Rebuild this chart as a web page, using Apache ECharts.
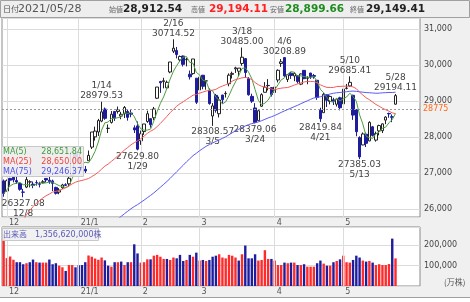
<!DOCTYPE html>
<html>
<head>
<meta charset="utf-8">
<script src="https://cdn.jsdelivr.net/npm/echarts@6/dist/echarts.min.js"></script>
<style>
html,body{margin:0;padding:0;background:#fff;}
#c{width:470px;height:302px;}
</style>
</head>
<body>
<div id="c"></div>
<script>
// Nikkei 225 daily candles, 2020/11/30 - 2021/05/28
const dates = [
'2020/11/30',
'2020/12/01','2020/12/02','2020/12/03','2020/12/04','2020/12/07','2020/12/08','2020/12/09','2020/12/10','2020/12/11',
'2020/12/14','2020/12/15','2020/12/16','2020/12/17','2020/12/18','2020/12/21','2020/12/22','2020/12/23','2020/12/24','2020/12/25',
'2020/12/28','2020/12/29','2020/12/30',
'2021/01/04','2021/01/05','2021/01/06','2021/01/07','2021/01/08','2021/01/12','2021/01/13','2021/01/14','2021/01/15',
'2021/01/18','2021/01/19','2021/01/20','2021/01/21','2021/01/22','2021/01/25','2021/01/26','2021/01/27','2021/01/28','2021/01/29',
'2021/02/01','2021/02/02','2021/02/03','2021/02/04','2021/02/05','2021/02/08','2021/02/09','2021/02/10','2021/02/12',
'2021/02/15','2021/02/16','2021/02/17','2021/02/18','2021/02/19','2021/02/22','2021/02/24','2021/02/25','2021/02/26',
'2021/03/01','2021/03/02','2021/03/03','2021/03/04','2021/03/05','2021/03/08','2021/03/09','2021/03/10','2021/03/11','2021/03/12',
'2021/03/15','2021/03/16','2021/03/17','2021/03/18','2021/03/19','2021/03/22','2021/03/23','2021/03/24','2021/03/25','2021/03/26',
'2021/03/29','2021/03/30','2021/03/31',
'2021/04/01','2021/04/02','2021/04/05','2021/04/06','2021/04/07','2021/04/08','2021/04/09','2021/04/12','2021/04/13','2021/04/14',
'2021/04/15','2021/04/16','2021/04/19','2021/04/20','2021/04/21','2021/04/22','2021/04/23','2021/04/26','2021/04/27','2021/04/28',
'2021/04/30',
'2021/05/06','2021/05/07','2021/05/10','2021/05/11','2021/05/12','2021/05/13','2021/05/14','2021/05/17','2021/05/18','2021/05/19',
'2021/05/20','2021/05/21','2021/05/24','2021/05/25','2021/05/26','2021/05/27','2021/05/28'
];

const opens = [
26780,
26500,26850,26880,26790,26710,26470,26610,26750,26690,
26734,26700,26730,26850,26800,26780,26600,26470,26590,26675,
26699,26936,27560,
27575.57,27151.38,27102.85,27340.46,27720.14,28004.37,28140.10,28442.73,28777.47,
28238.68,28405.18,28710.04,28710.26,28580.39,28649.27,28710.17,28666.43,28255.02,28308.21,
27892.96,28151.28,28431.65,28510.29,28535.82,29077.33,29540.07,29538.88,29365.12,
29806.30,30382.57,30403.44,30142.21,30250.58,30146.49,29743.73,29761.83,29633.72,
29307.04,29715.84,29555.93,29297.62,28583.26,29156.86,28646.28,29164.84,29203.14,29481.40,
29740.46,29893.56,29827.56,30043.01,30178.24,29621.88,29129.11,28807.44,28454.52,28855.02,
29241.98,29426.86,29372.60,
29235.38,29583.98,30041.27,30205.35,29598.91,29774.06,29694.68,29702.87,29468.52,29851.17,
29631.81,29777.33,29707.69,29575.71,28744.25,28675.49,29174.07,28988.50,29033.95,28910.63,
29089.27,
28920.67,29351.10,29418.64,29158.18,28756.30,27985.63,27779.49,28079.35,27891.55,28282.17,
27914.61,28168.84,28176.09,28470.32,28654.64,28564.59,28912.54
];

const highs = [
26820,
26820,26865,26890,26895,26726,26560,26894,26800,26762,
26800,26756,26803,26860,26905,26817,26620,26580,26700,26716,
26908,27602,27572,
27602.11,27279.78,27196.40,27624.73,28139.03,28287.37,28503.43,28979.53,28820.50,
28349.97,28720.99,28711.56,28846.15,28698.42,28860.08,28760.51,28753.08,28324.25,28432.02,
28180.03,28362.17,28731.73,28510.29,28836.58,29388.50,29559.21,29646.14,29568.11,
30084.15,30714.52,30500.95,30263.05,30261.82,30200.93,29846.95,30168.27,29633.72,
29679.43,29724.74,29559.39,29349.03,28942.17,29197.68,29120.08,29175.27,29270.40,29768.06,
29815.66,29951.85,29917.87,30485.00,30194.71,29668.39,29202.59,28941.25,28749.72,29215.28,
29525.31,29608.29,29374.90,
29454.75,29878.94,30167.06,30208.89,29742.08,29807.64,29806.52,29714.75,29766.41,29861.05,
29687.62,29780.00,29750.94,29575.71,28812.64,29225.63,29174.60,29152.00,29090.98,29053.97,
29118.94,
29331.37,29473.52,29685.41,29175.25,28775.70,28020.49,28126.17,28122.34,28436.40,28306.62,
28149.57,28341.46,28379.73,28576.08,28676.17,28626.29,29194.11
];

const lows = [
26341,
26490,26650,26740,26700,26508,26327.08,26581,26600,26578,
26650,26600,26710,26740,26700,26500,26400,26410,26560,26638,
26640,26900,27338,
27042.32,27073.46,27002.18,27340.46,27667.25,27899.45,28030.55,28412.17,28477.03,
28111.54,28373.50,28446.58,28651.14,28494.75,28526.38,28455.00,28548.34,28111.38,27629.80,
27781.56,28059.87,28394.12,28258.87,28468.05,29056.60,29226.64,29352.32,29358.60,
29771.22,30331.70,30184.19,30082.25,29958.12,29962.84,29597.05,29730.05,28917.40,
29227.17,29325.73,29315.50,28896.38,28308.57,28676.50,28544.39,28922.28,29097.24,29408.14,
29624.17,29780.09,29686.20,29981.05,29644.24,29147.84,28946.30,28379.06,28454.52,28838.39,
29241.98,29293.31,29123.31,
29153.75,29514.56,29947.83,29672.45,29527.37,29613.97,29551.58,29487.28,29440.54,29607.60,
29465.53,29611.30,29618.97,29032.76,28419.84,28675.49,28833.41,28907.43,28889.22,28845.94,
28741.37,
28913.77,29322.02,29392.81,28475.92,28020.39,27385.03,27772.23,27721.59,27884.23,28013.86,
27871.50,28046.62,28110.85,28357.47,28534.73,28412.21,28899.66
];

const closes = [
26433.62,
26787.54,26800.98,26809.37,26751.24,26547.44,26467.08,26817.94,26756.24,26652.52,
26732.44,26687.84,26757.40,26806.67,26763.39,26714.42,26436.39,26524.79,26668.35,26656.61,
26854.03,27568.15,27444.17,
27258.38,27158.63,27055.94,27490.13,28139.03,28164.34,28456.59,28698.26,28519.18,
28242.21,28633.46,28523.26,28756.86,28631.45,28822.29,28546.18,28635.21,28197.42,27663.39,
28091.05,28362.17,28646.50,28341.95,28779.19,29388.50,29505.93,29562.93,29520.07,
30084.15,30467.75,30292.19,30236.09,30017.92,30156.03,29671.70,30168.27,28966.01,
29663.50,29408.17,29559.10,28930.11,28864.32,28743.25,29027.94,29036.56,29211.64,29717.83,
29766.97,29921.09,29914.33,30216.75,29792.05,29174.15,28995.92,28405.52,28729.88,29176.70,
29384.52,29432.70,29178.80,
29388.87,29854.00,30089.25,29696.63,29730.79,29708.98,29768.06,29538.73,29751.61,29620.99,
29642.69,29683.37,29685.37,29100.38,28508.55,29188.17,29020.63,29126.23,28991.89,29053.97,
28812.63,
29331.37,29357.82,29518.34,28608.59,28147.51,27448.01,28084.47,27824.83,28406.84,28044.45,
28098.25,28317.83,28364.61,28553.98,28642.19,28549.01,29149.41
];

// moving averages of the close
const ma5 = [
26416,26540,26641,26695,26717,26739,26675,26678,26668,26648,
26685,26729,26717,26727,26749,26746,26695,26649,26621,26600,
26628,26854,27038,27156,27257,27297,27281,27420,27602,27861,
28190,28395,28416,28510,28523,28535,28557,28673,28656,28678,
28566,28373,28226,28190,28192,28221,28444,28704,28933,29116,
29351,29612,29828,29985,30120,30220,30234,30075,30050,29796,
29725,29576,29553,29305,29285,29101,29025,28920,28977,29148,
29352,29531,29706,29907,29922,29804,29619,29317,29020,28897,
28939,29026,29181,29313,29448,29589,29642,29752,29816,29799,
29689,29700,29678,29665,29648,29677,29546,29324,29233,29101,
28989,28967,29076,29001,29063,29110,29215,29126,28993,28616,
28361,28023,27982,27962,28092,28138,28246,28276,28395,28486,
28651.84
];

const ma25 = [
24901,25032,25164,25297,25431,25559,25699,25840,25962,26064,
26160,26234,26308,26367,26416,26470,26491,26511,26549,26590,
26643,26699,26745,26774,26794,26819,26847,26901,26955,27023,
27109,27191,27248,27323,27398,27479,27557,27639,27709,27784,
27843,27892,27955,28023,28102,28162,28210,28288,28378,28474,
28573,28676,28770,28855,28926,28979,29044,29101,29163,29180,
29217,29248,29277,29293,29302,29324,29378,29416,29450,29493,
29550,29596,29617,29645,29654,29640,29597,29514,29452,29409,
29384,29355,29336,29304,29340,29357,29368,29375,29406,29443,
29474,29503,29527,29544,29543,29539,29507,29450,29409,29378,
29376,29376,29402,29405,29412,29411,29414,29391,29342,29245,
29165,29090,29037,28971,28904,28855,28800,28757,28717,28671,
28650.00
];

const ma75 = [
null,null,null,null,null,null,null,null,null,null,
null,null,null,null,null,null,null,null,null,null,
null,null,null,null,null,null,null,null,null,null,
null,null,null,null,25648,25722,25797,25870,25938,26008,
26068,26122,26183,26246,26313,26378,26449,26525,26605,26684,
26764,26852,26945,27036,27126,27216,27311,27396,27483,27547,
27619,27680,27742,27789,27834,27879,27920,27961,28007,28062,
28118,28168,28216,28265,28307,28344,28373,28395,28420,28453,
28491,28530,28562,28597,28639,28684,28724,28764,28803,28843,
28880,28925,28966,29006,29046,29084,29104,29118,29144,29169,
29196,29216,29229,29237,29249,29258,29271,29276,29269,29255,
29246,29235,29230,29223,29216,29218,29227,29233,29237,29236,
29246.37
];

// daily volume, 万株
const volumes = [
238000,137000,145000,129000,117000,117000,107000,112000,117000,130000,
117000,115000,115000,115000,130000,107000,112000,100000,92000,74000,
103000,103000,92000,102000,103000,117000,150000,144000,135000,129000,
140000,126000,100000,95000,117000,117000,120000,103000,117000,117000,
205000,160000,115000,117000,131000,131000,149000,153000,144000,133000,
133000,128000,140000,136000,153000,123000,128000,153000,144000,164000,
125000,128000,123000,128000,144000,149000,156000,140000,136000,153000,
149000,140000,125000,156000,199000,136000,136000,156000,125000,128000,
176000,133000,133000,125000,103000,103000,115000,112000,115000,115000,
103000,103000,107000,95000,95000,95000,112000,125000,110000,100000,
100000,117000,123000,131000,149000,117000,115000,128000,149000,140000,
125000,120000,123000,115000,103000,107000,103000,103000,108000,233000,
135662
];

// month ticks on the date axis
const tickDates = ['2020/12/01','2021/01/04','2021/02/01','2021/03/01','2021/04/01','2021/05/06'];
const tickLabels = ['12','21/1','2','3','4','5'];

// annotated swing highs / lows
const highMarkDates = ['2021/01/14','2021/02/16','2021/03/18','2021/04/06','2021/05/10','2021/05/28'];
const lowMarkDates = ['2020/12/08','2021/01/29','2021/03/05','2021/03/24','2021/04/21','2021/05/13'];

// reference price line
const basePrice = 28775;

const FONT = '"DejaVu Sans", "Noto Sans CJK JP", sans-serif';
const JP = '"Noto Sans CJK JP", "DejaVu Sans", sans-serif';
const UP = '#ff2a2a', DOWN = '#1d1d9e';

function fmt2(v) {
  return v.toLocaleString('en-US', {minimumFractionDigits: 2, maximumFractionDigits: 2});
}
function md(d) {
  const p = d.split('/');
  return (+p[1]) + '/' + (+p[2]);
}

// a few empty slots to the right of the last session
const cats = dates.slice();
for (let k = 1; k <= 7; k++) cats.push('pad' + k);

const candles = dates.map((d, i) => [opens[i], closes[i], lows[i], highs[i]]);
const volData = volumes.map((v, i) => ({
  value: v,
  itemStyle: {color: (i === 0 || closes[i] >= closes[i - 1]) ? UP : DOWN}
}));

const tickIdx = tickDates.map(d => dates.indexOf(d));

const markLabel = {color: '#444', fontSize: 9, fontFamily: FONT, lineHeight: 10};
const markPoints = []
  .concat(highMarkDates.map(d => {
    const i = dates.indexOf(d);
    return {coord: [d, highs[i]], label: Object.assign({position: 'top', distance: 1,
      formatter: md(d) + '\n' + highs[i].toFixed(2)}, markLabel)};
  }))
  .concat(lowMarkDates.map(d => {
    const i = dates.indexOf(d);
    return {coord: [d, lows[i]], label: Object.assign({position: 'bottom', distance: 1,
      formatter: lows[i].toFixed(2) + '\n' + md(d)}, markLabel)};
  }));

const monthLines = tickDates.map(d => ({xAxis: d}));

const last = dates.length - 1;

const xAxisCommon = {
  type: 'category',
  data: cats,
  boundaryGap: true,
  axisLine: {show: false},
  axisTick: {show: false},
  splitLine: {show: false},
  axisLabel: {
    interval: (idx) => tickIdx.indexOf(idx) >= 0,
    formatter: (v, idx) => { const k = tickIdx.indexOf(idx); return k >= 0 ? tickLabels[k] : ''; },
    align: 'left', padding: [0, 0, 0, 2], margin: 2,
    fontSize: 8, color: '#555', fontFamily: FONT
  }
};

const option = {
  animation: false,
  backgroundColor: '#ffffff',
  grid: [
    {left: 2, top: 18, width: 418, height: 199, show: true, backgroundColor: '#fff', borderColor: '#8a8a8a', borderWidth: 1},
    {left: 2, top: 227, width: 418, height: 59, show: true, backgroundColor: '#fff', borderColor: '#8a8a8a', borderWidth: 1}
  ],
  xAxis: [
    Object.assign({gridIndex: 0}, xAxisCommon),
    Object.assign({gridIndex: 1}, xAxisCommon)
  ],
  yAxis: [
    {
      gridIndex: 0, type: 'value', position: 'right', scale: true,
      min: 25778, max: 31306, splitNumber: 5,
      axisLine: {show: false}, axisTick: {show: false},
      splitLine: {lineStyle: {color: '#dcdcdc', width: 1}},
      axisLabel: {showMinLabel: false, showMaxLabel: false, margin: 4, fontSize: 8, color: '#444', fontFamily: FONT}
    },
    {
      gridIndex: 1, type: 'value', position: 'right',
      min: 0, max: 290000, splitNumber: 3,
      axisLine: {show: false}, axisTick: {show: false},
      splitLine: {lineStyle: {color: '#dcdcdc', width: 1}},
      axisLabel: {showMinLabel: false, showMaxLabel: false, margin: 4, fontSize: 8, color: '#444', fontFamily: FONT}
    }
  ],
  series: [
    {
      name: 'price', type: 'candlestick', xAxisIndex: 0, yAxisIndex: 0,
      data: candles, barWidth: 3, z: 4,
      itemStyle: {color: '#ffffff', color0: DOWN, borderColor: '#222', borderColor0: DOWN, borderWidth: 1},
      markPoint: {symbol: 'circle', symbolSize: 0, silent: true, data: markPoints},
      markLine: {
        silent: true, symbol: 'none',
        data: monthLines.map(m => Object.assign({lineStyle: {color: '#dcdcdc', type: 'solid', width: 1}, label: {show: false}}, m))
          .concat([{yAxis: basePrice, lineStyle: {color: '#9a9a9a', type: [2, 2], width: 1},
            label: {show: true, position: 'end', distance: 3, formatter: String(basePrice), color: '#ff6a1a', fontSize: 8, fontFamily: FONT}}])
      }
    },
    {name: 'MA(5)', type: 'line', xAxisIndex: 0, yAxisIndex: 0, data: ma5, showSymbol: false, z: 5,
      lineStyle: {color: '#4f9d3f', width: 1}},
    {name: 'MA(25)', type: 'line', xAxisIndex: 0, yAxisIndex: 0, data: ma25, showSymbol: false, z: 5,
      lineStyle: {color: '#f45a5a', width: 1}},
    {name: 'MA(75)', type: 'line', xAxisIndex: 0, yAxisIndex: 0, data: ma75, showSymbol: false, z: 5, connectNulls: false,
      lineStyle: {color: '#5a5af2', width: 1}},
    {
      name: 'volume', type: 'bar', xAxisIndex: 1, yAxisIndex: 1, data: volData, barWidth: 2.4, z: 4,
      markLine: {silent: true, symbol: 'none', label: {show: false},
        lineStyle: {color: '#dcdcdc', type: 'solid', width: 1}, data: monthLines}
    }
  ],
  graphic: [
    // header bar
    {type: 'rect', left: 0, top: 0, z: 0, shape: {width: 469, height: 17}, style: {fill: '#eeeeee', stroke: '#a0a0a0', lineWidth: 1}},
    {type: 'text', x: 3, y: 9, z: 1, style: {text: '日付', font: '8px ' + JP, fill: '#555', verticalAlign: 'middle'}},
    {type: 'text', x: 18, y: 9, z: 1, style: {text: dates[last], font: '11px ' + FONT, fill: '#555', verticalAlign: 'middle'}},
    {type: 'text', x: 109, y: 9.5, z: 1, style: {text: '始値', font: '7px ' + JP, fill: '#666', verticalAlign: 'middle'}},
    {type: 'text', x: 123, y: 9, z: 1, style: {text: fmt2(opens[last]), font: 'bold 10.5px ' + FONT, fill: '#222', verticalAlign: 'middle'}},
    {type: 'text', x: 191, y: 9.5, z: 1, style: {text: '高値', font: '7px ' + JP, fill: '#666', verticalAlign: 'middle'}},
    {type: 'text', x: 209, y: 9, z: 1, style: {text: fmt2(highs[last]), font: 'bold 10.5px ' + FONT, fill: '#ff2020', verticalAlign: 'middle'}},
    {type: 'text', x: 270, y: 9.5, z: 1, style: {text: '安値', font: '7px ' + JP, fill: '#666', verticalAlign: 'middle'}},
    {type: 'text', x: 285, y: 9, z: 1, style: {text: fmt2(lows[last]), font: 'bold 10.5px ' + FONT, fill: '#1e8c1e', verticalAlign: 'middle'}},
    {type: 'text', x: 350, y: 9.5, z: 1, style: {text: '終値', font: '7px ' + JP, fill: '#666', verticalAlign: 'middle'}},
    {type: 'text', x: 366, y: 9, z: 1, style: {text: fmt2(closes[last]), font: 'bold 10.5px ' + FONT, fill: '#222', verticalAlign: 'middle'}},
    // right-hand scale panel and date bands
    {type: 'rect', left: 420, top: 17, z: -5, shape: {width: 50, height: 280}, style: {fill: '#f0f0f0'}},
    {type: 'rect', left: 0, top: 217, z: -5, shape: {width: 420, height: 10}, style: {fill: '#f0f0f0'}},
    {type: 'rect', left: 0, top: 286, z: -5, shape: {width: 470, height: 11}, style: {fill: '#f0f0f0'}},
    {type: 'line', z: 1, shape: {x1: 0, y1: 297.5, x2: 470, y2: 297.5}, style: {stroke: '#a0a0a0', lineWidth: 1}},
    {type: 'text', x: 444, y: 282, z: 10, style: {text: '(万株)', font: '8px ' + JP, fill: '#555', verticalAlign: 'middle'}},
    // moving-average legend
    {type: 'rect', left: 1, top: 146, z: 20, shape: {width: 82, height: 30}, style: {fill: 'rgba(236,236,236,0.9)', stroke: '#c8c8c8', lineWidth: 1}},
    {type: 'text', x: 3, y: 151.5, z: 21, style: {text: 'MA(5)', font: '8px ' + FONT, fill: '#3f9a3a', verticalAlign: 'middle'}},
    {type: 'text', x: 82, y: 151.5, z: 21, style: {text: fmt2(ma5[last]), font: '8px ' + FONT, fill: '#3f9a3a', align: 'right', verticalAlign: 'middle'}},
    {type: 'text', x: 3, y: 161.5, z: 21, style: {text: 'MA(25)', font: '8px ' + FONT, fill: '#f24040', verticalAlign: 'middle'}},
    {type: 'text', x: 82, y: 161.5, z: 21, style: {text: fmt2(ma25[last]), font: '8px ' + FONT, fill: '#f24040', align: 'right', verticalAlign: 'middle'}},
    {type: 'text', x: 3, y: 171.5, z: 21, style: {text: 'MA(75)', font: '8px ' + FONT, fill: '#5050ee', verticalAlign: 'middle'}},
    {type: 'text', x: 82, y: 171.5, z: 21, style: {text: fmt2(ma75[last]), font: '8px ' + FONT, fill: '#5050ee', align: 'right', verticalAlign: 'middle'}},
    // volume caption
    {type: 'rect', left: 2, top: 228, z: 20, shape: {width: 96, height: 12}, style: {fill: 'rgba(240,240,240,0.95)', stroke: '#c8c8c8', lineWidth: 1}},
    {type: 'text', x: 3, y: 234.5, z: 21, style: {text: '出来高　' + (volumes[last] * 10000).toLocaleString('en-US') + '株', font: '8px ' + FONT, fill: '#5a5ab8', verticalAlign: 'middle'}}
  ]
};

const chart = echarts.init(document.getElementById('c'), null, {renderer: 'canvas', width: 470, height: 302});
chart.setOption(option);
</script>
</body>
</html>
